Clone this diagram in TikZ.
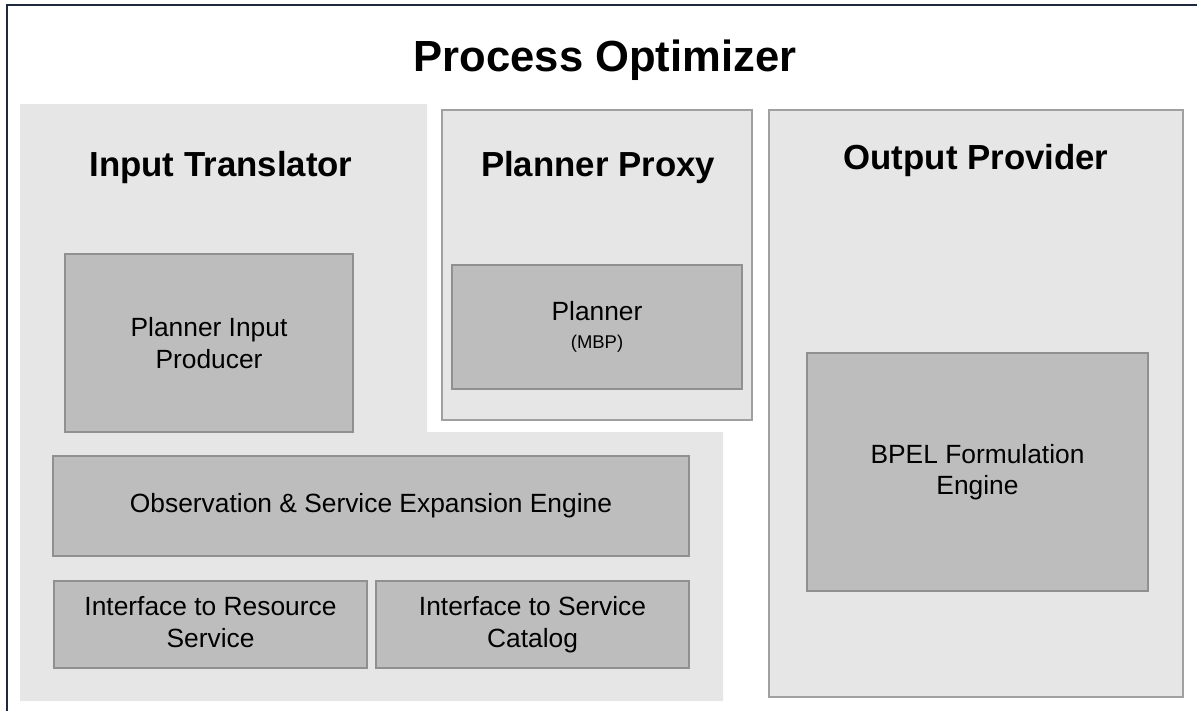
\documentclass[tikz,border=0pt]{standalone}
\usepackage{fontspec}
\setmainfont{Liberation Sans}
\definecolor{framecol}{RGB}{30,40,62}
\definecolor{paneFill}{RGB}{230,230,230}
\definecolor{unitFill}{RGB}{189,189,189}
\definecolor{edgeGray}{RGB}{160,160,160}
\begin{document}
\begin{tikzpicture}[
  unit/.style={draw=edgeGray!90!black,fill=unitFill,line width=0.6pt,inner sep=0pt,align=center,font=\fontsize{15}{18}\selectfont},
  pane/.style={draw=edgeGray,fill=paneFill,line width=0.6pt},
  heading/.style={font=\fontsize{19.8}{22}\selectfont\bfseries}]
\useasboundingbox (0,0) rectangle (23.940,-14.220);
% outer frame
\draw[framecol,line width=1.1pt] (0.140,-14.220) -- (0.140,-0.100) -- (23.940,-0.100);
\node[font=\fontsize{24.8}{28}\selectfont\bfseries] (optimizer) at (12.100,-1.200) {Process Optimizer};
% input translator
\fill[paneFill] (0.400,-2.080) -- (8.540,-2.080) -- (8.540,-8.640) -- (14.460,-8.640) -- (14.460,-14.020) -- (0.400,-14.020) -- cycle;
\node[heading] (translator) at (4.420,-3.340) {Input Translator};
\node[unit,minimum width=5.760cm,minimum height=3.560cm] (producer) at (4.180,-6.860) {Planner Input\\Producer};
\node[unit,minimum width=12.720cm,minimum height=2.000cm] (expansion) at (7.420,-10.120) {Observation \& Service Expansion Engine};
\node[unit,minimum width=6.260cm,minimum height=1.740cm] (resource) at (4.210,-12.490) {Interface to Resource\\Service\vphantom{g}};
\node[unit,minimum width=6.260cm,minimum height=1.740cm] (catalog) at (10.650,-12.490) {Interface to Service\\Catalog};
% planner proxy
\draw[pane] (8.840,-2.200) rectangle (15.040,-8.400);
\node[heading] (proxy) at (11.960,-3.340) {Planner Proxy};
\node[unit,minimum width=5.800cm,minimum height=2.480cm] (planner) at (11.940,-6.540) {Planner\\[-2pt]{\fontsize{10.5}{12}\selectfont (MBP)}};
% output provider
\draw[pane] (15.380,-2.200) rectangle (23.660,-13.940);
\node[heading] (provider) at (19.520,-3.200) {Output Provider};
\node[unit,minimum width=6.820cm,minimum height=4.760cm] (bpel) at (19.550,-9.440) {BPEL Formulation\\Engine};
\end{tikzpicture}
\end{document}
